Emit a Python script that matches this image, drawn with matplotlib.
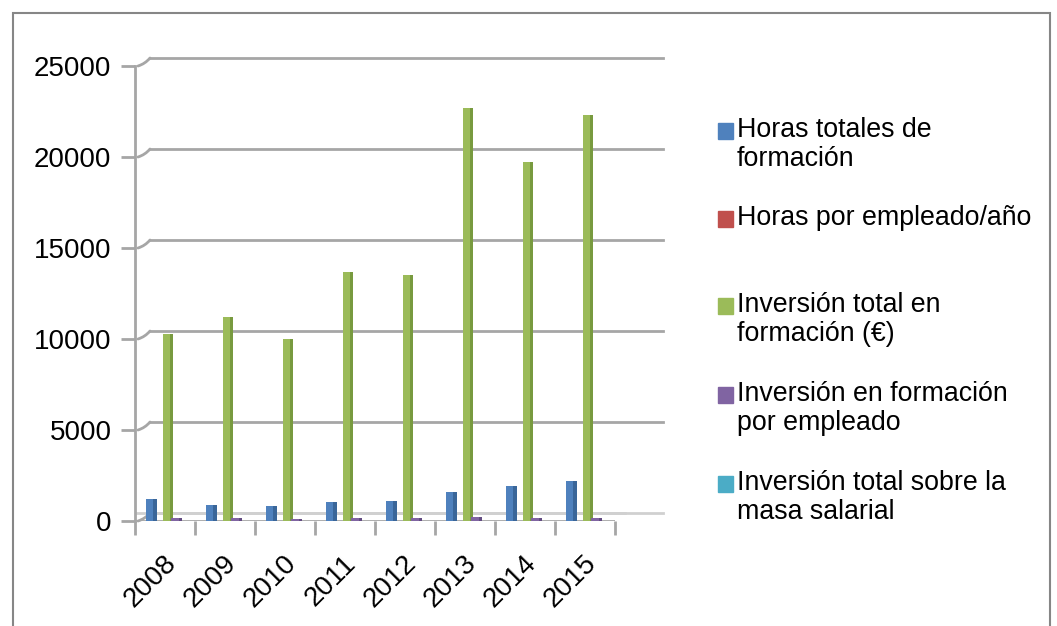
import numpy as np
import matplotlib.pyplot as plt
import matplotlib.transforms as mtransforms
from matplotlib.patches import Rectangle

plt.rcParams['font.family'] = ['Liberation Sans', 'DejaVu Sans']

years = ["2008", "2009", "2010", "2011", "2012", "2013", "2014", "2015"]
horas_totales = [1200, 880, 820, 1040, 1100, 1600, 1920, 2200]
horas_empleado = [20, 18, 17, 19, 20, 22, 24, 25]
inversion_total = [10300, 11200, 10000, 13700, 13500, 22700, 19700, 22300]
inversion_empleado = [150, 140, 120, 160, 150, 200, 180, 190]
inversion_masa = [0.5, 0.5, 0.4, 0.5, 0.5, 0.7, 0.6, 0.6]

series = [
    ("Horas totales de\nformación", horas_totales, "#4F81BD", "#3A6699"),
    ("Horas por empleado/año", horas_empleado, "#C0504D", "#9A3D3A"),
    ("Inversión total en\nformación (€)", inversion_total, "#9BBB59", "#789A3F"),
    ("Inversión en formación\npor empleado", inversion_empleado, "#8064A2", "#634C82"),
    ("Inversión total sobre la\nmasa salarial", inversion_masa, "#4BACC6", "#348CA3"),
]

W, H = 1057, 626
fig = plt.figure(figsize=(W / 100, H / 100), dpi=100)

# outer chart frame
fig.patches.append(Rectangle((13 / W, -0.01), (1050 - 13) / W, 1 - 13 / H + 0.01,
                             transform=fig.transFigure, fill=False,
                             edgecolor="#868686", linewidth=1.5))

ax = fig.add_axes([135 / W, 1 - 521 / H, (615 - 135) / W, (521 - 66) / H])
ax.set_xlim(-0.5, 7.5)
ax.set_ylim(0, 25000)
ax.patch.set_alpha(0)

# back wall gridlines (pseudo 3D)
gtrans = mtransforms.blended_transform_factory(fig.transFigure, ax.transData)
gtrans_off = mtransforms.offset_copy(gtrans, fig=fig, x=0, y=8, units="dots")
for v in range(0, 25001, 5000):
    col = "#A6A6A6" if v else "#D0D0D0"
    ax.plot([150 / W, 663 / W], [v, v], transform=gtrans_off, color=col,
            lw=2, clip_on=False, zorder=0)
    ax.annotate("", xy=(150 / W, v), xycoords=gtrans_off,
                xytext=(138 / W, v), textcoords=gtrans,
                arrowprops=dict(arrowstyle="-", color="#A6A6A6", lw=2,
                                connectionstyle="arc3,rad=0.15", shrinkA=0, shrinkB=0))
# floor edge
ax.plot([137 / W, 150 / W, 625 / W], [0, 0, 0], transform=gtrans_off,
        color="#D0D0D0", lw=2, clip_on=False, zorder=0)

x = np.arange(len(years))
offsets = [-0.23, -0.09, 0.05, 0.19, 0.33]
bw = 0.18
for (label, vals, c, dark), off in zip(series, offsets):
    ax.bar(x + off, vals, width=bw, color=c, zorder=3)
    ax.bar(x + off + bw * 0.35, vals, width=bw * 0.3, color=dark, zorder=3)

for s in ["top", "right", "bottom"]:
    ax.spines[s].set_visible(False)
ax.spines["left"].set_color("#A6A6A6")
ax.spines["left"].set_linewidth(2)

ax.set_yticks(range(0, 25001, 5000))
ax.tick_params(axis="y", length=10, width=2, color="#A6A6A6", labelsize=20, pad=7)

ax.set_xticks(np.arange(-0.5, 8, 1))
ax.set_xticklabels([])
ax.tick_params(axis="x", which="major", length=10, width=2, color="#A6A6A6")
ax.set_xticks(x, minor=True)
ax.set_xticklabels(years, minor=True, rotation=45, ha="right",
                   rotation_mode="anchor", fontsize=20)
ax.tick_params(axis="x", which="minor", length=0, pad=21)
shift = mtransforms.ScaledTranslation(-2 / 100, 0, fig.dpi_scale_trans)
for t in ax.get_xticklabels(minor=True):
    t.set_transform(t.get_transform() + shift)
ax.axhline(0, color="#A6A6A6", lw=2, zorder=1)

# legend
leg_y = [131, 219, 306, 395, 484]
for (label, vals, c, dark), yy in zip(series, leg_y):
    fig.patches.append(Rectangle((718 / W, 1 - (yy + 8) / H), 15 / W, 16 / H,
                                 transform=fig.transFigure, color=c))
    fig.text(737 / W, 1 - (yy - 14) / H, label, fontsize=19.3, va="top",
             ha="left", linespacing=1.16)

fig.savefig("out.png", dpi=100)
